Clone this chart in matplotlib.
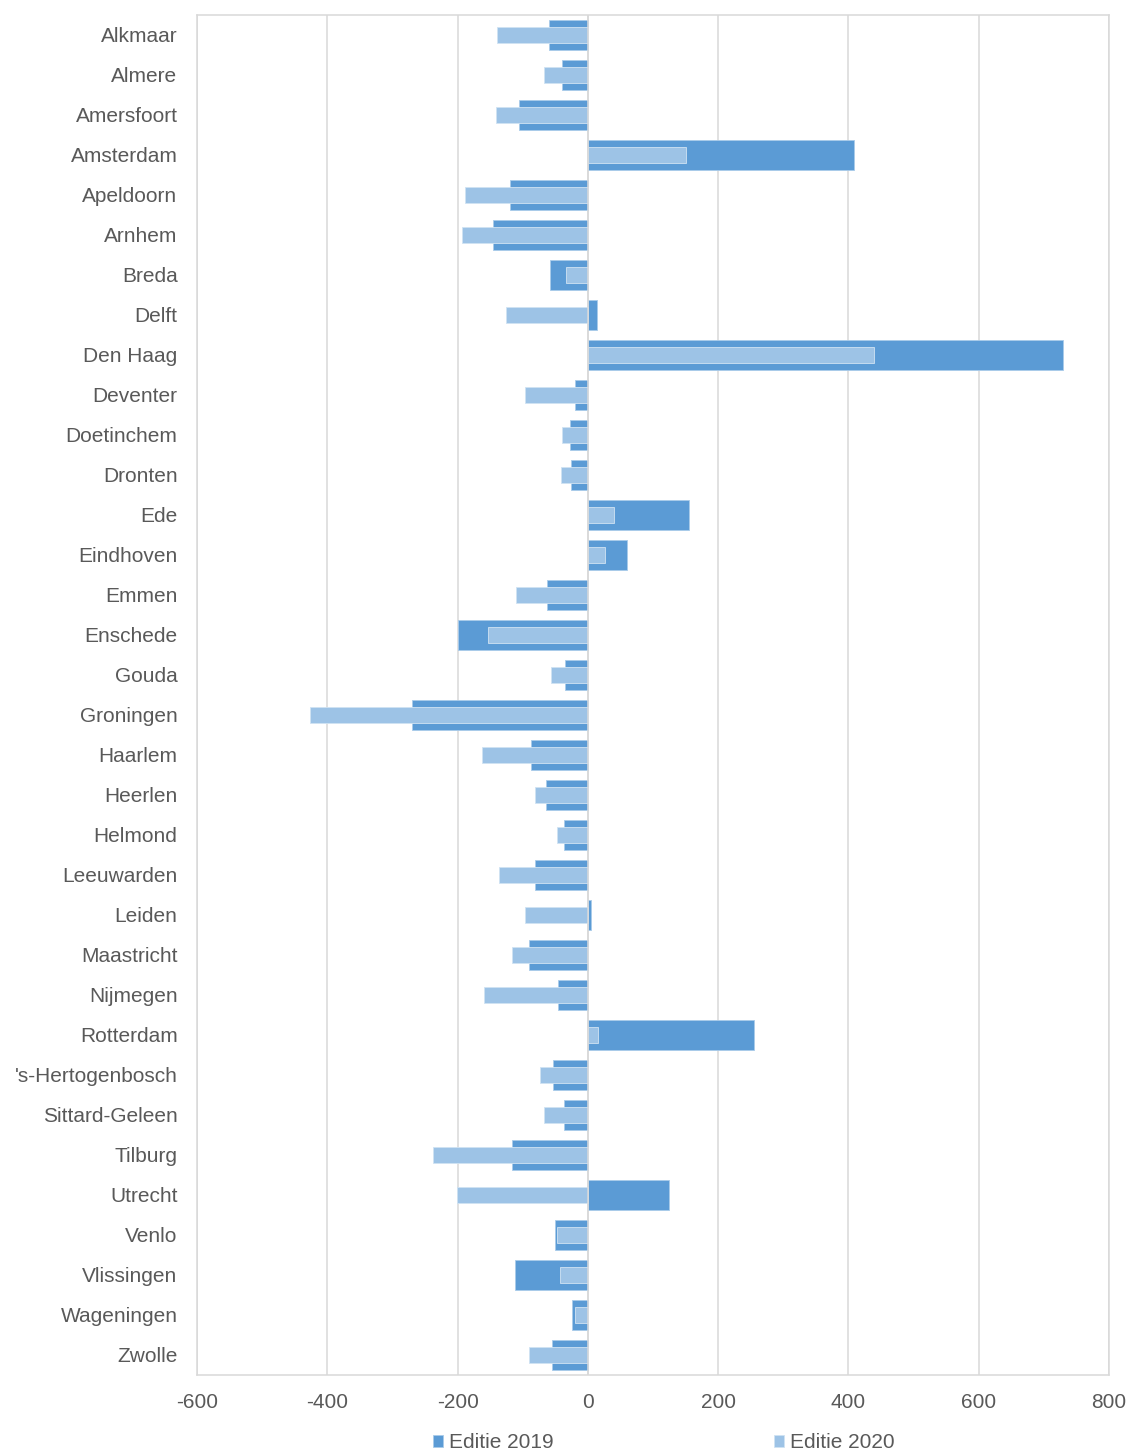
import numpy as np
import matplotlib.pyplot as plt

plt.rcParams['font.family'] = ['Liberation Sans', 'DejaVu Sans']

steden = ["Alkmaar", "Almere", "Amersfoort", "Amsterdam", "Apeldoorn", "Arnhem",
          "Breda", "Delft", "Den Haag", "Deventer", "Doetinchem", "Dronten", "Ede",
          "Eindhoven", "Emmen", "Enschede", "Gouda", "Groningen", "Haarlem", "Heerlen",
          "Helmond", "Leeuwarden", "Leiden", "Maastricht", "Nijmegen", "Rotterdam",
          "'s-Hertogenbosch", "Sittard-Geleen", "Tilburg", "Utrecht", "Venlo",
          "Vlissingen", "Wageningen", "Zwolle"]

editie_2019 = [-60, -40, -106, 409, -119, -146, -58, 14, 730, -19, -28, -26, 155,
               60, -63, -200, -35, -270, -88, -64, -36, -81, 5, -91, -46, 255,
               -54, -37, -117, 125, -51, -112, -24, -55]

editie_2020 = [-140, -68, -141, 151, -189, -193, -33, -126, 440, -96, -40, -41, 40,
               27, -111, -154, -57, -427, -163, -81, -48, -137, -97, -117, -160, 15,
               -74, -67, -237, -201, -48, -43, -19, -91]

xticks = [-600, -400, -200, 0, 200, 400, 600, 800]

kleur_2019 = "#5B9BD5"
kleur_2020 = "#9DC3E6"
grijs = "#D9D9D9"
tekst = "#595959"

fig = plt.figure(figsize=(11.29, 14.52), dpi=100)
ax = fig.add_axes([197 / 1129, 1 - 1375 / 1452, (1109 - 197) / 1129, 1360 / 1452])

y = np.arange(len(steden))
ax.barh(y, editie_2019, height=0.75, color=kleur_2019, edgecolor="#A9CBEA",
        linewidth=0.6, label="Editie 2019", zorder=3)
ax.barh(y, editie_2020, height=0.39, color=kleur_2020, edgecolor="#D0E3F3",
        linewidth=0.6, label="Editie 2020", zorder=4)

ax.set_xlim(-600, 800)
ax.set_ylim(len(steden) - 0.5, -0.5)
ax.set_xticks(xticks)
ax.set_xticklabels([str(v) for v in xticks])
ax.set_yticks(y)
ax.set_yticklabels(steden)

ax.grid(axis="x", color=grijs, linewidth=1.1, zorder=0)
ax.axvline(0, color=grijs, linewidth=1.1, zorder=5)
for s in ax.spines.values():
    s.set_color(grijs)
    s.set_linewidth(1.1)

ax.tick_params(axis="both", length=0, labelsize=15, labelcolor=tekst)
ax.tick_params(axis="y", pad=14)
ax.tick_params(axis="x", pad=13)

fig.legend(loc="center", bbox_to_anchor=(664 / 1129, 1 - 1443 / 1452), ncol=2,
           frameon=False, fontsize=15, labelcolor=tekst, handlelength=0.47,
           handleheight=0.47, handletextpad=0.3, columnspacing=10.6, borderpad=0)

fig.savefig("out.png", dpi=100)
